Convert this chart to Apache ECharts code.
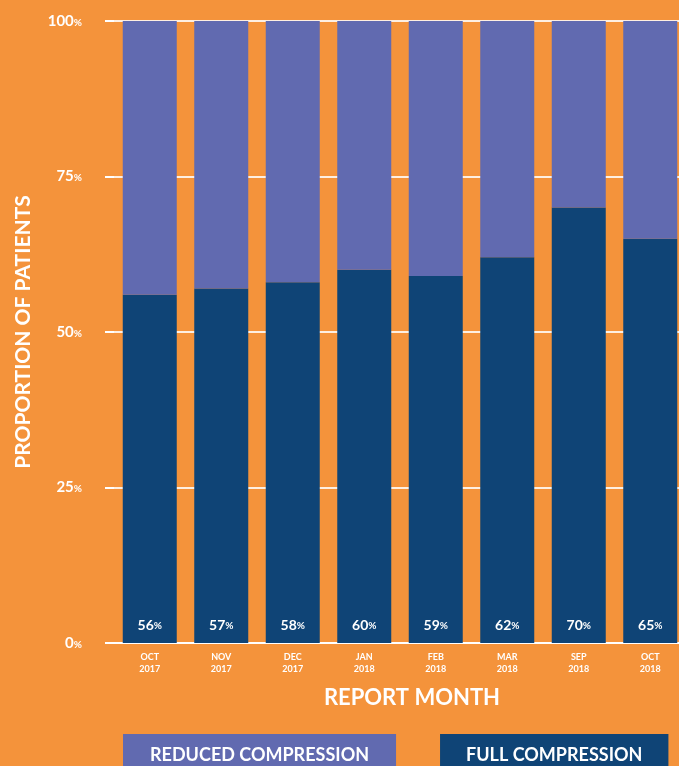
<!DOCTYPE html>
<html>
<head>
<meta charset="utf-8">
<script src="https://cdn.jsdelivr.net/npm/echarts@6/dist/echarts.min.js"></script>
<style>
  html, body { margin: 0; padding: 0; background: #F4933B; }
  #chart-container { width: 679px; height: 766px; }
</style>
</head>
<body>
<div id="chart-container"></div>
<script>
// data
let months = ["OCT\n2017", "NOV\n2017", "DEC\n2017", "JAN\n2018", "FEB\n2018", "MAR\n2018", "SEP\n2018", "OCT\n2018"];
let fullCompression = [56, 57, 58, 60, 59, 62, 70, 65];
let reducedCompression = [44, 43, 42, 40, 41, 38, 30, 35];
let yTicks = [0, 25, 50, 75, 100];

let dom = document.getElementById("chart-container");
let myChart = echarts.init(dom, null, { renderer: "canvas" });

let font = "Lato, 'Open Sans', sans-serif";
let purple = "#616AB0";
let navy = "#0F4476";

let option = {
    backgroundColor: "#F4933B",
    textStyle: { fontFamily: font },
    grid: { left: 114, width: 572, top: 21, bottom: 123, outerBoundsMode: "none" },
    legend: {
        top: 729,
        left: 113,
        width: 660,
        orient: "horizontal",
        icon: "none",
        itemWidth: 0,
        itemGap: 39,
        selectedMode: false,
        data: [{
            name: "REDUCED COMPRESSION",
            textStyle: {
                color: "#fff", fontSize: 18, fontWeight: "bold", fontFamily: font,
                backgroundColor: purple,
                padding: [10, 27, 14, 27]
            }
        }, {
            name: "FULL COMPRESSION",
            textStyle: {
                color: "#fff", fontSize: 18, fontWeight: "bold", fontFamily: font,
                backgroundColor: navy,
                padding: [10, 26, 14, 26]
            }
        }]
    },
    xAxis: {
        type: "category",
        data: months,
        name: "REPORT MONTH",
        nameLocation: "middle",
        nameGap: 44,
        nameTextStyle: {
            color: "#fff", fontSize: 22, fontWeight: "bold", fontFamily: font,
            padding: [0, 0, 0, 24]
        },
        axisLine: { lineStyle: { color: "#fff", width: 2 } },
        axisTick: { show: false },
        axisLabel: {
            color: "#fff", fontSize: 9, fontWeight: "bold", lineHeight: 12, margin: 8, fontFamily: font
        }
    },
    yAxis: {
        type: "value",
        min: 0,
        max: 100,
        interval: 25,
        name: "PROPORTION OF PATIENTS",
        nameLocation: "middle",
        nameGap: 80,
        nameTextStyle: { color: "#fff", fontSize: 21, fontWeight: "bold", fontFamily: font },
        axisLine: { show: false },
        axisTick: { show: true, length: 9, lineStyle: { color: "#fff", width: 2 } },
        splitLine: { lineStyle: { color: "rgba(255,255,255,0.85)", width: 2 } },
        axisLabel: {
            margin: 32,
            formatter: function (v) {
                return yTicks.indexOf(v) >= 0 ? "{n|" + v + "}{p|%}" : "";
            },
            rich: {
                n: { color: "#fff", fontSize: 15, fontWeight: "bold", fontFamily: font },
                p: { color: "#fff", fontSize: 10, fontWeight: "bold", fontFamily: font, padding: [3, 0, 0, 0] }
            }
        }
    },
    series: [{
        name: "FULL COMPRESSION",
        type: "bar",
        stack: "total",
        barWidth: 54,
        data: fullCompression,
        itemStyle: { color: navy },
        label: {
            show: true,
            position: "insideBottom",
            distance: 11,
            formatter: "{n|{c}}{p|%}",
            rich: {
                n: { color: "#fff", fontSize: 14, fontWeight: "bold", fontFamily: font },
                p: { color: "#fff", fontSize: 10, fontWeight: "bold", fontFamily: font, padding: [2, 0, 0, 0] }
            }
        }
    }, {
        name: "REDUCED COMPRESSION",
        type: "bar",
        stack: "total",
        barWidth: 54,
        data: reducedCompression,
        itemStyle: { color: purple }
    }]
};

myChart.setOption(option);
window.addEventListener("resize", myChart.resize);
</script>
</body>
</html>
